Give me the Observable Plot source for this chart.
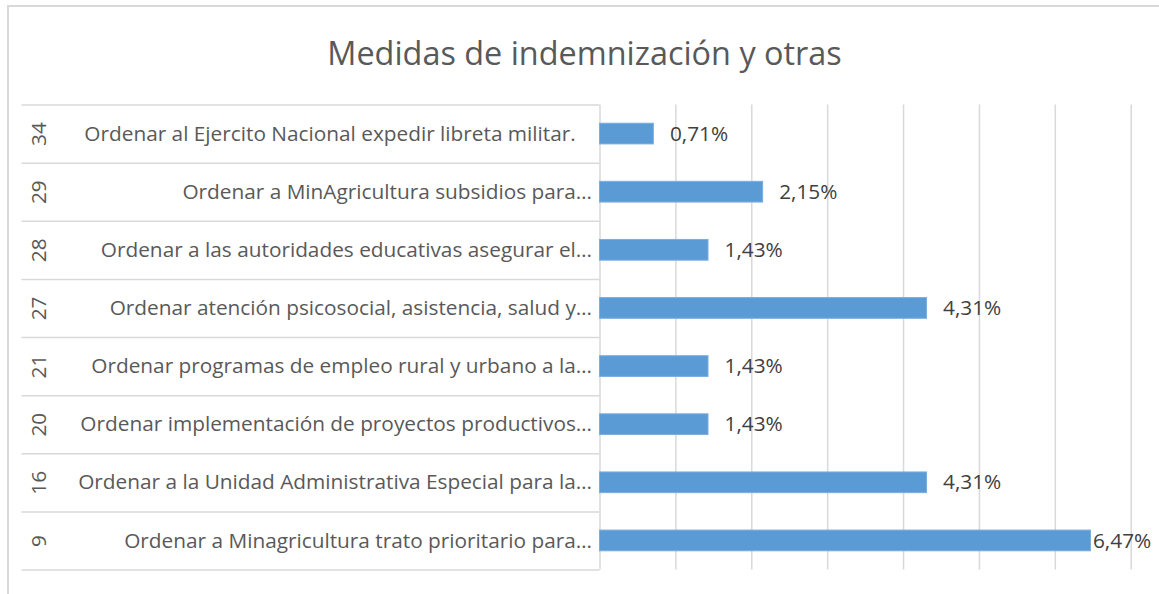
<!DOCTYPE html>
<html>
<head>
<meta charset="utf-8">
<script src="https://cdn.jsdelivr.net/npm/d3@7"></script>
<script src="https://cdn.jsdelivr.net/npm/@observablehq/plot@0.6"></script>
<style>
  html, body { margin: 0; padding: 0; background: #fff; }
  #wrap { position: relative; width: 1159px; height: 594px; overflow: hidden; font-family: "Open Sans", sans-serif; }
  #frame { position: absolute; left: 7px; top: 5px; right: -10px; bottom: -10px; border-top: 2px solid #d9d9d9; border-left: 2px solid #d9d9d9; pointer-events: none; }
  #title { height: 100px; box-sizing: border-box; padding-top: 30px; padding-left: 10px; line-height: 44px; font-size: 32.4px; color: #595959; text-align: center; }
  #chart svg { display: block; }
</style>
</head>
<body>
<div id="wrap">
  <div id="frame"></div>
  <div id="title">Medidas de indemnización y otras</div>
  <div id="chart"></div>
</div>
<script>
const codes = ["34", "29", "28", "27", "21", "20", "16", "9"];
const labels = [
  "Ordenar al Ejercito Nacional expedir libreta militar.\u00a0\u00a0\u00a0",
  "Ordenar a MinAgricultura subsidios para…",
  "Ordenar a las autoridades educativas asegurar el…",
  "Ordenar atención psicosocial, asistencia, salud y…",
  "Ordenar programas de empleo rural y urbano a la…",
  "Ordenar implementación de proyectos productivos…",
  "Ordenar a la Unidad Administrativa Especial para la…",
  "Ordenar a Minagricultura trato prioritario para…"
];
const values = [0.71, 2.15, 1.43, 4.31, 1.43, 1.43, 4.31, 6.47];
const xTicks = [0, 1, 2, 3, 4, 5, 6, 7];

const rows = codes.map((c, i) => ({code: c, label: labels[i], value: values[i], i}));
const maxV = d3.max(values);
const fmt = v => v.toFixed(2).replace(".", ",") + "%";

const chart = Plot.plot({
  width: 1159,
  height: 494,
  marginTop: 4.5,
  marginBottom: 24.5,
  marginLeft: 599.5,
  marginRight: 28.3,
  style: {fontFamily: "Open Sans", fontSize: "20.8px", background: "transparent"},
  x: {domain: [0, 7], axis: null},
  y: {domain: [0, rows.length], reverse: true, axis: null},
  marks: [
    Plot.ruleX(xTicks, {stroke: "#d9d9d9", strokeWidth: 1.5}),
    Plot.axisY(d3.range(0, rows.length + 1), {anchor: "left", tickSize: 578, tickFormat: () => "", stroke: "#d9d9d9", strokeWidth: 1.5, label: null}),
    Plot.rectX(rows, {x1: 0, x2: "value", y1: d => d.i, y2: d => d.i + 1, insetTop: 18.7, insetBottom: 18.7, fill: "#5b9bd5", stroke: "#7aaee0", strokeWidth: 1}),
    Plot.text(rows.filter(d => d.value < maxV), {x: "value", y: d => d.i + 0.5, text: d => fmt(d.value), dx: 16, textAnchor: "start", fill: "#404040", fontSize: 20.8}),
    Plot.text(rows.filter(d => d.value === maxV), {x: "value", y: d => d.i + 0.5, text: d => fmt(d.value), dx: 2, textAnchor: "start", fill: "#404040", fontSize: 20.8}),
    Plot.text(rows, {x: 0, y: d => d.i + 0.5, text: "label", dx: -8, textAnchor: "end", fill: "#595959", fontSize: 20.8}),
    Plot.text(rows, {x: 0, y: d => d.i + 0.5, text: "code", dx: -561, rotate: -90, textAnchor: "middle", fill: "#595959", fontSize: 20.8})
  ]
});
document.getElementById("chart").appendChild(chart);
</script>
</body>
</html>
